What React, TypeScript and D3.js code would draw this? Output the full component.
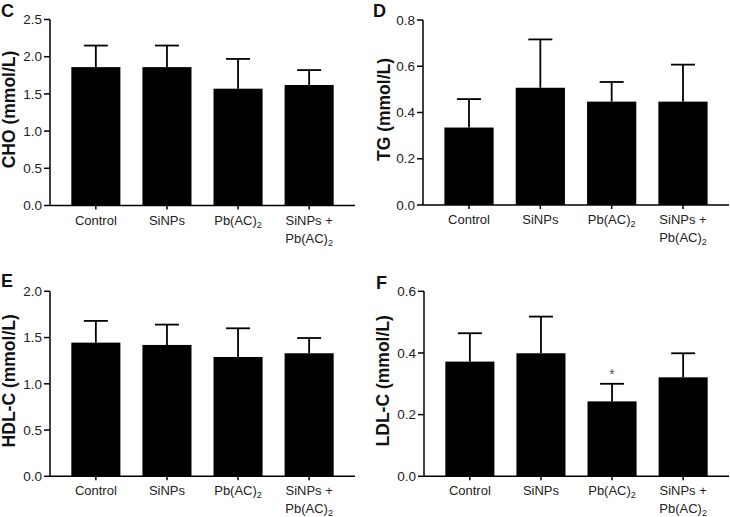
import React from "react";
import * as d3 from "d3";

const groups = ["Control", "SiNPs", "Pb(AC)2", "SiNPs + Pb(AC)2"];

const choMean = [1.86, 1.86, 1.57, 1.62];
const choErr = [2.15, 2.15, 1.97, 1.82];
const choTicks = [0, 0.5, 1.0, 1.5, 2.0, 2.5];

const tgMean = [0.335, 0.507, 0.447, 0.447];
const tgErr = [0.458, 0.716, 0.532, 0.607];
const tgTicks = [0, 0.2, 0.4, 0.6, 0.8];

const hdlMean = [1.445, 1.42, 1.29, 1.33];
const hdlErr = [1.68, 1.64, 1.6, 1.495];
const hdlTicks = [0, 0.5, 1.0, 1.5, 2.0];

const ldlMean = [0.372, 0.399, 0.243, 0.321];
const ldlErr = [0.464, 0.518, 0.3, 0.399];
const ldlTicks = [0, 0.2, 0.4, 0.6];
const ldlStars = ["", "", "*", ""];

const FONT = "'Liberation Sans', Arial, Helvetica, sans-serif";

type PanelProps = {
  letter: string;
  title: string;
  mean: number[];
  err: number[];
  ticks: number[];
  stars?: string[];
  x0: number;
  x1: number;
  y0: number;
  y1: number;
  letterX: number;
  letterY: number;
  titleX: number;
};

function XLabel({ name, x, y }: { name: string; x: number; y: number }) {
  const renderPb = (yy: number, key: string) => (
    <text key={key} x={x} y={yy} textAnchor="middle" fontSize={13} fill="#222" fontFamily={FONT}>
      Pb(AC)
      <tspan fontSize={9} dy={3}>2</tspan>
    </text>
  );
  if (name === "Pb(AC)2") return renderPb(y, "a");
  if (name === "SiNPs + Pb(AC)2") {
    return (
      <g>
        <text x={x} y={y} textAnchor="middle" fontSize={13} fill="#222" fontFamily={FONT}>
          SiNPs +
        </text>
        {renderPb(y + 18, "b")}
      </g>
    );
  }
  return (
    <text x={x} y={y} textAnchor="middle" fontSize={13} fill="#222" fontFamily={FONT}>
      {name}
    </text>
  );
}

function Panel(p: PanelProps) {
  const xs = d3.scaleBand<string>().domain(groups).range([p.x0, p.x1]).paddingInner(0.31).paddingOuter(0.3);
  const ys = d3.scaleLinear().domain([0, p.ticks[p.ticks.length - 1]]).range([p.y1, p.y0]);
  const fmt = d3.format(".1f");
  const bw = xs.bandwidth();
  const capW = 24;
  return (
    <g>
      <text x={p.letterX} y={p.letterY} fontSize={18} fontWeight="bold" fontFamily={FONT} fill="#111">
        {p.letter}
      </text>
      <text
        transform={`translate(${p.titleX},${(p.y0 + p.y1) / 2 - 3}) rotate(-90)`}
        textAnchor="middle"
        fontSize={17.5}
        fontWeight="bold"
        fontFamily={FONT}
        fill="#111"
      >
        {p.title}
      </text>
      {groups.map((g, i) => {
        const cx = (xs(g) as number) + bw / 2;
        return (
          <g key={g}>
            <line x1={cx} x2={cx} y1={ys(p.mean[i])} y2={ys(p.err[i])} stroke="#000" strokeWidth={1.8} />
            <line x1={cx - capW / 2} x2={cx + capW / 2} y1={ys(p.err[i])} y2={ys(p.err[i])} stroke="#000" strokeWidth={1.8} />
            <rect x={xs(g)} y={ys(p.mean[i])} width={bw} height={p.y1 - ys(p.mean[i])} fill="#000" />
            <line x1={cx} x2={cx} y1={p.y1} y2={p.y1 + 4} stroke="#000" strokeWidth={1.5} />
            <XLabel name={g} x={cx} y={p.y1 + 19} />
            {p.stars && p.stars[i] ? (
              <text x={cx} y={ys(p.err[i]) - 5} textAnchor="middle" fontSize={14} fill="#555" fontFamily={FONT}>
                {p.stars[i]}
              </text>
            ) : null}
          </g>
        );
      })}
      <line x1={p.x0} x2={p.x1} y1={p.y1} y2={p.y1} stroke="#000" strokeWidth={1.5} />
      <line x1={p.x0} x2={p.x0} y1={p.y0} y2={p.y1} stroke="#000" strokeWidth={1.5} />
      {p.ticks.map((t) => (
        <g key={t}>
          <line x1={p.x0 - 6} x2={p.x0} y1={ys(t)} y2={ys(t)} stroke="#000" strokeWidth={1.5} />
          <text x={p.x0 - 8} y={ys(t)} dy="0.35em" textAnchor="end" fontSize={13.5} fill="#222" fontFamily={FONT}>
            {fmt(t)}
          </text>
        </g>
      ))}
    </g>
  );
}

export default function App() {
  return (
    <svg width={730} height={517} style={{ position: "absolute", left: 0, top: 0, background: "#fff" }}>
      <rect width={730} height={517} fill="#fff" />
      <Panel letter="C" title="CHO (mmol/L)" mean={choMean} err={choErr} ticks={choTicks}
        x0={50} x1={355} y0={19.5} y1={205.5} letterX={1} letterY={17} titleX={15} />
      <Panel letter="D" title="TG (mmol/L)" mean={tgMean} err={tgErr} ticks={tgTicks}
        x0={423} x1={729} y0={20} y1={205} letterX={373} letterY={17} titleX={390} />
      <Panel letter="E" title="HDL-C (mmol/L)" mean={hdlMean} err={hdlErr} ticks={hdlTicks}
        x0={50} x1={355} y0={291.3} y1={476.3} letterX={1} letterY={287} titleX={15} />
      <Panel letter="F" title="LDL-C (mmol/L)" mean={ldlMean} err={ldlErr} ticks={ldlTicks} stars={ldlStars}
        x0={424} x1={729} y0={291.3} y1={476.3} letterX={376} letterY={289} titleX={389} />
    </svg>
  );
}
